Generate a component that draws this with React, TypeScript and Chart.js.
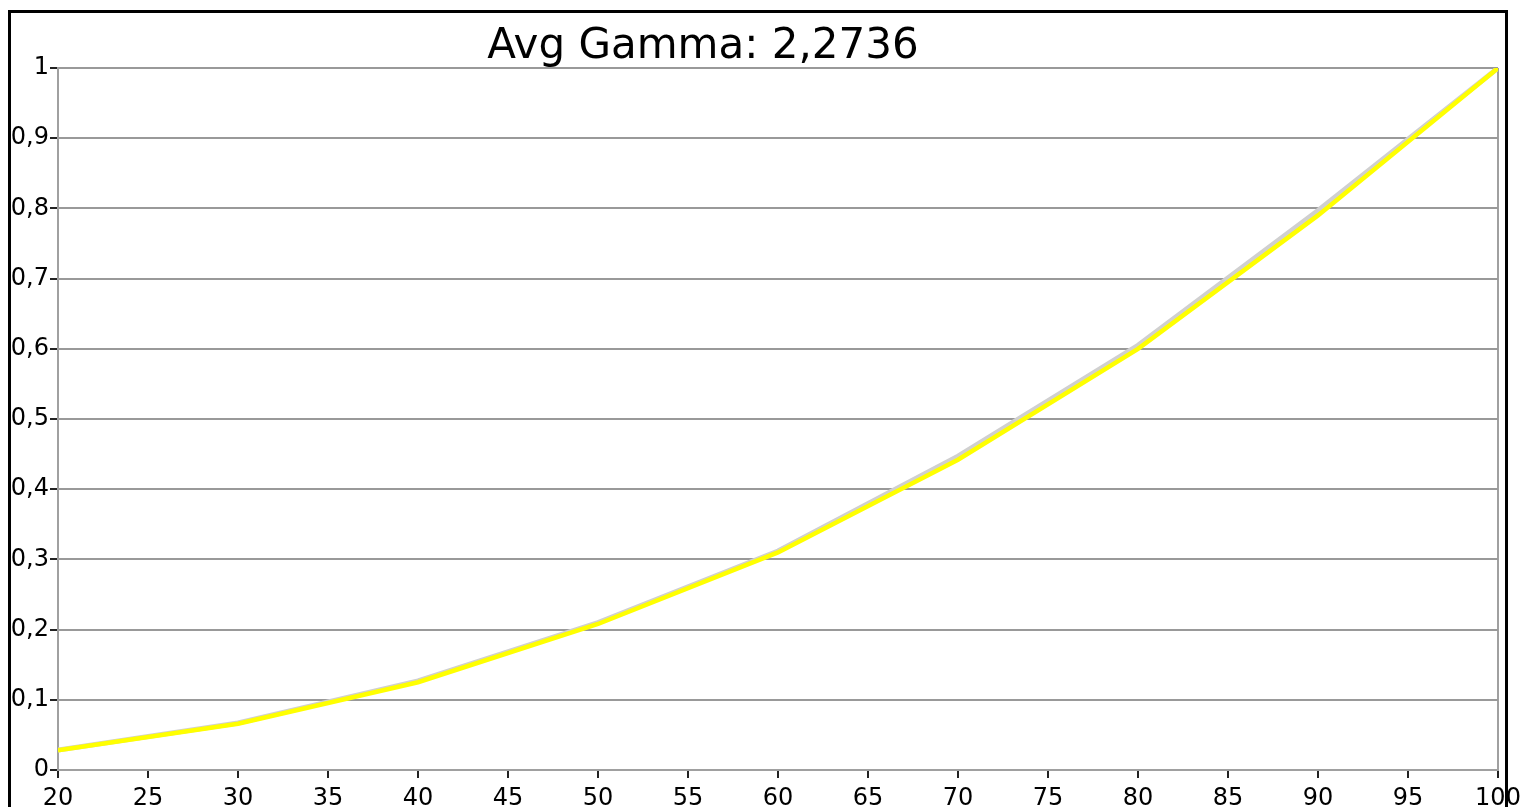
import React, { useEffect, useRef } from "react";
import { Chart, registerables } from "chart.js";

Chart.register(...registerables);

const TITLE = "Avg Gamma: 2,2736";
const xLevels = [20, 30, 40, 50, 60, 70, 80, 90, 100];
const targetValues = [0.0285, 0.067, 0.127, 0.21, 0.312, 0.447, 0.605, 0.797, 1.0];
const measuredValues = [0.028, 0.066, 0.125, 0.208, 0.31, 0.442, 0.6, 0.79, 1.0];
const xMin = 20;
const xMax = 100;
const xStep = 5;
const yMin = 0;
const yMax = 1;
const yStep = 0.1;

const FONT = '"DejaVu Sans", Verdana, sans-serif';

const titlePlugin = {
  id: "customTitle",
  afterDraw(chart: any) {
    const ctx = chart.ctx;
    ctx.save();
    ctx.font = `42px ${FONT}`;
    ctx.fillStyle = "#000";
    ctx.textAlign = "center";
    ctx.textBaseline = "alphabetic";
    ctx.fillText(TITLE, 703, 58);
    ctx.restore();
  },
};

export default function App() {
  const ref = useRef<HTMLCanvasElement | null>(null);

  useEffect(() => {
    document.body.style.margin = "0";
    if (!ref.current) return;
    const chart = new Chart(ref.current, {
      type: "line",
      data: {
        datasets: [
          {
            label: "Measured",
            data: xLevels.map((x, i) => ({ x, y: measuredValues[i] })),
            borderColor: "#ffff00",
            borderWidth: 4.5,
            pointRadius: 0,
            tension: 0,
            fill: false,
          },
          {
            label: "Target",
            data: xLevels.map((x, i) => ({ x, y: targetValues[i] })),
            borderColor: "#d0d0d0",
            borderWidth: 5,
            pointRadius: 0,
            tension: 0,
            fill: false,
          },
        ],
      },
      options: {
        animation: false,
        responsive: false,
        devicePixelRatio: 1,
        layout: { padding: { top: 68, right: 25, bottom: 0, left: 0 } },
        plugins: {
          legend: { display: false },
          title: { display: false },
          tooltip: { enabled: false },
        },
        scales: {
          x: {
            type: "linear",
            min: xMin,
            max: xMax,
            afterFit: (s: any) => {
              s.height = 37;
              s.paddingLeft = 0;
              s.paddingRight = 0;
            },
            ticks: {
              stepSize: xStep,
              color: "#000",
              font: { family: FONT, size: 24 },
              padding: 6,
              maxRotation: 0,
              autoSkip: false,
            },
            grid: {
              drawOnChartArea: true,
              color: (c: any) => (c.tick && c.tick.value === xMax ? "#a0a0a0" : "rgba(0,0,0,0)"),
              lineWidth: 2,
              tickLength: 8,
              tickColor: "#222",
              tickWidth: 2,
            },
            border: { color: "#a0a0a0", width: 2 },
          },
          y: {
            type: "linear",
            min: yMin,
            max: yMax,
            afterFit: (s: any) => {
              s.width = 58;
              s.paddingTop = 0;
              s.paddingBottom = 0;
            },
            ticks: {
              stepSize: yStep,
              color: "#000",
              font: { family: FONT, size: 24 },
              padding: 1,
              callback: (v: any) => String(Math.round(Number(v) * 10) / 10).replace(".", ","),
            },
            grid: {
              color: "#999999",
              lineWidth: 2,
              tickLength: 8,
              tickColor: "#222",
              tickWidth: 2,
            },
            border: { color: "#a0a0a0", width: 2 },
          },
        },
      },
      plugins: [titlePlugin],
    });
    return () => chart.destroy();
  }, []);

  return (
    <div style={{ position: "relative", width: 1523, height: 807, overflow: "hidden", background: "#fff" }}>
      <canvas ref={ref} width={1523} height={807} style={{ position: "absolute", left: 0, top: 0 }} />
      <div
        style={{
          position: "absolute",
          left: 8,
          top: 10,
          width: 1494,
          height: 900,
          border: "3px solid #000",
          pointerEvents: "none",
        }}
      />
    </div>
  );
}
